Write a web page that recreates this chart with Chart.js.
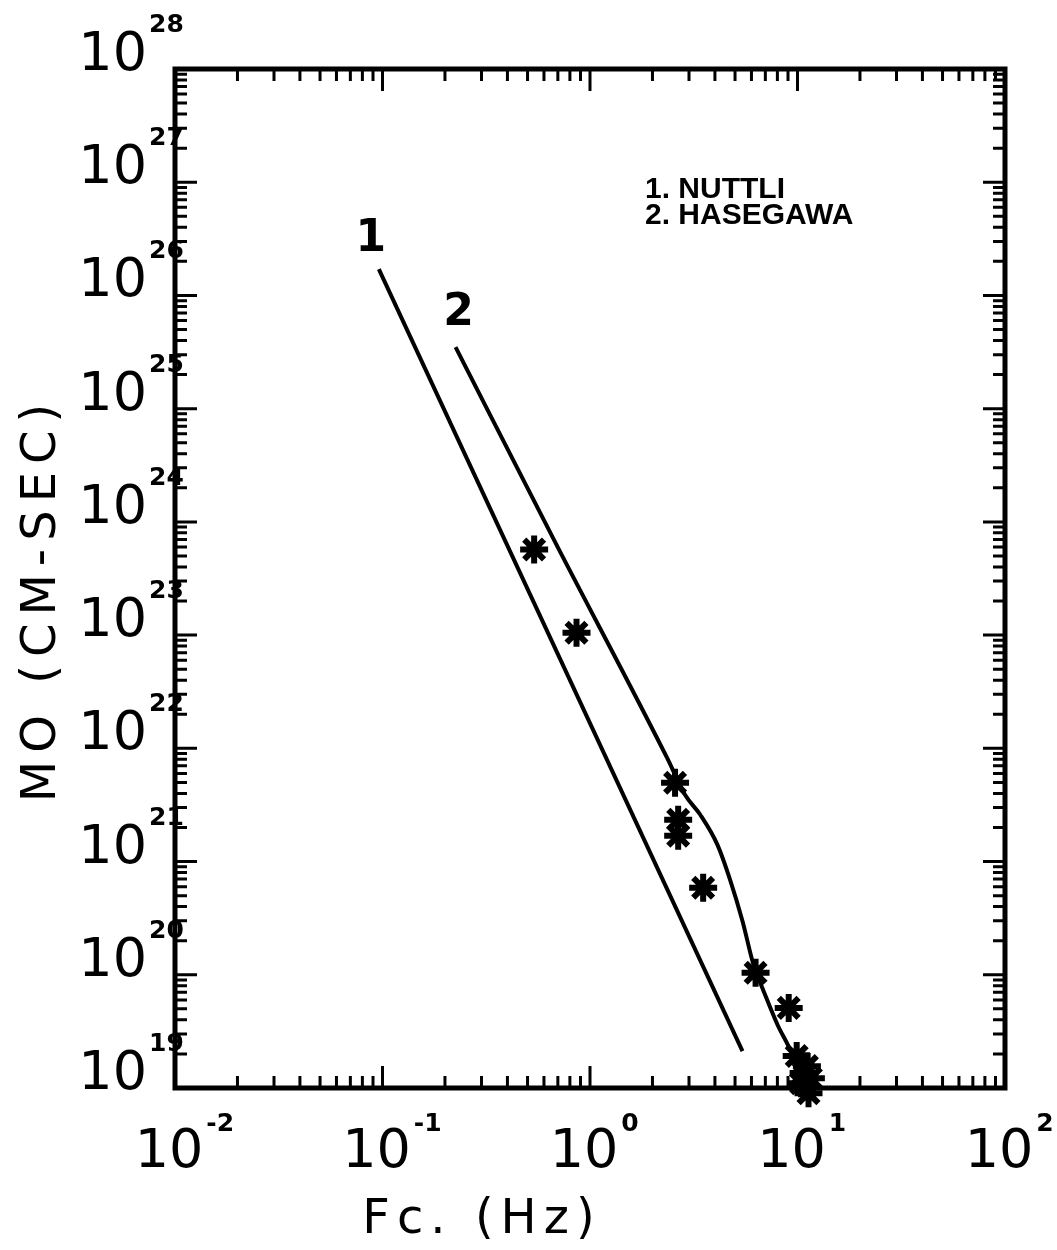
<!DOCTYPE html>
<html>
<head>
<meta charset="utf-8">
<script src="https://cdn.jsdelivr.net/npm/chart.js@4.4.1/dist/chart.umd.min.js"></script>
<style>
  body { margin: 0; background: #fff; }
  canvas { display: block; }
</style>
</head>
<body>
<canvas id="moment-chart" width="1057" height="1250"></canvas>
<script>
// decade exponents for the tick labels
const xExponents = [-2, -1, 0, 1, 2];
const yExponents = [19, 20, 21, 22, 23, 24, 25, 26, 27, 28];

// curve 1: Nuttli
const nuttliFc = [0.096, 5.43];
const nuttliMo = [1.71e26, 2.12e19];

// curve 2: Hasegawa
const hasegawaFc = [0.225, 0.689, 2.35, 2.87, 3.40, 4.11, 4.75, 5.43, 6.14, 6.86, 8.02, 9.27, 10.4];
const hasegawaMo = [3.49e25, 6.3e23, 8.27e21, 3.89e21, 2.59e21, 1.41e21, 6.76e20, 2.99e20, 1.22e20, 7.2e19, 3.6e19, 2.12e19, 1.18e19];

// observed events
const eventFc = [0.538, 0.861, 2.57, 2.66, 2.66, 3.51, 6.28, 9.07, 9.91, 11.1, 10.7, 11.6, 11.3, 10.4];
const eventMo = [5.7e23, 1.05e23, 4.97e21, 2.34e21, 1.69e21, 5.86e20, 1.04e20, 5.1e19, 1.92e19, 1.56e19, 1.36e19, 1.22e19, 9.0e18, 1.1e19];

const curveNumbers = ["1", "2"];
const legendLines = ["1. NUTTLI", "2. HASEGAWA"];
const xTitle = "Fc. (Hz)";
const yTitle = "MO (CM-SEC)";

function pairs(xs, ys) {
  return xs.map((x, i) => ({ x: x, y: ys[i] }));
}

const FONT = '"DejaVu Sans"';

// frame, inward ticks on all four sides, and all the text
const logFrame = {
  id: "logFrame",
  beforeDatasetsDraw(chart) {
    const ctx = chart.ctx;
    const xs = chart.scales.x;
    const ys = chart.scales.y;
    const { left, right, top, bottom } = chart.chartArea;
    ctx.save();
    ctx.strokeStyle = "#000";
    ctx.lineWidth = 3;
    ctx.beginPath();
    for (let e = xExponents[0]; e < xExponents[xExponents.length - 1]; e++) {
      for (let m = 1; m <= 9; m++) {
        const px = xs.getPixelForValue(m * Math.pow(10, e));
        const len = m === 1 ? 22 : 12;
        ctx.moveTo(px, bottom);
        ctx.lineTo(px, bottom - len);
        ctx.moveTo(px, top);
        ctx.lineTo(px, top + len);
      }
    }
    for (let e = yExponents[0]; e < yExponents[yExponents.length - 1]; e++) {
      for (let m = 1; m <= 9; m++) {
        const py = ys.getPixelForValue(m * Math.pow(10, e));
        const len = m === 1 ? 22 : 12;
        ctx.moveTo(left, py);
        ctx.lineTo(left + len, py);
        ctx.moveTo(right, py);
        ctx.lineTo(right - len, py);
      }
    }
    ctx.stroke();
    ctx.lineWidth = 5;
    ctx.strokeRect(left, top, right - left, bottom - top);
    ctx.restore();
  },
  afterDraw(chart) {
    const ctx = chart.ctx;
    const xs = chart.scales.x;
    const ys = chart.scales.y;
    const { left, top, bottom } = chart.chartArea;
    ctx.save();
    ctx.fillStyle = "#000";

    // x tick labels: 10 with exponent
    xExponents.forEach((e) => {
      const px = xs.getPixelForValue(Math.pow(10, e)) - 6;
      ctx.font = "54px " + FONT;
      ctx.textAlign = "center";
      ctx.textBaseline = "alphabetic";
      ctx.fillText("10", px, bottom + 79);
      const w = ctx.measureText("10").width;
      ctx.font = "bold 25px " + FONT;
      ctx.textAlign = "left";
      ctx.fillText(String(e), px + w / 2 + 3, bottom + 43);
    });

    // y tick labels
    yExponents.forEach((e) => {
      const py = ys.getPixelForValue(Math.pow(10, e));
      ctx.font = "54px " + FONT;
      ctx.textAlign = "right";
      ctx.textBaseline = "alphabetic";
      ctx.fillText("10", left - 28, py + 1);
      ctx.font = "bold 25px " + FONT;
      ctx.textAlign = "left";
      ctx.fillText(String(e), left - 26, py - 37);
    });

    // curve numbers next to the start of each line
    ctx.font = "bold 44px " + FONT;
    ctx.textAlign = "center";
    ctx.textBaseline = "middle";
    const p1 = chart.getDatasetMeta(1).data[0];
    const p2 = chart.getDatasetMeta(2).data[0];
    ctx.fillText(curveNumbers[0], p1.x - 8, p1.y - 30);
    ctx.fillText(curveNumbers[1], p2.x + 3, p2.y - 34);

    // key
    ctx.font = 'bold 30px "Liberation Sans"';
    ctx.textAlign = "left";
    ctx.textBaseline = "alphabetic";
    legendLines.forEach((t, i) => {
      ctx.fillText(t, left + 470, top + 129 + i * 26);
    });

    // axis titles
    ctx.font = "48px " + FONT;
    ctx.letterSpacing = "7px";
    ctx.textAlign = "center";
    ctx.fillText(xTitle, 482, 1233);

    ctx.font = "48px " + FONT;
    ctx.letterSpacing = "8px";
    ctx.translate(55, 599);
    ctx.rotate(-Math.PI / 2);
    ctx.fillText(yTitle, 0, 0);
    ctx.restore();
  },
};

const chart = new Chart(document.getElementById("moment-chart").getContext("2d"), {
  type: "scatter",
  data: {
    datasets: [
      {
        label: "events",
        data: pairs(eventFc, eventMo),
        pointStyle: "star",
        pointRadius: 14,
        pointBorderWidth: 6,
        borderColor: "#000",
        backgroundColor: "#000",
        showLine: false,
        clip: false,
      },
      {
        label: "NUTTLI",
        data: pairs(nuttliFc, nuttliMo),
        showLine: true,
        pointRadius: 0,
        borderWidth: 4,
        borderColor: "#000",
      },
      {
        label: "HASEGAWA",
        data: pairs(hasegawaFc, hasegawaMo),
        showLine: true,
        pointRadius: 0,
        borderWidth: 4,
        borderColor: "#000",
        cubicInterpolationMode: "monotone",
      },
    ],
  },
  options: {
    responsive: false,
    animation: false,
    devicePixelRatio: 1,
    layout: { padding: { left: 175, right: 52, top: 69, bottom: 162 } },
    scales: {
      x: { type: "logarithmic", min: 0.01, max: 100, display: false },
      y: { type: "logarithmic", min: 1e19, max: 1e28, display: false },
    },
    plugins: {
      legend: { display: false },
      tooltip: { enabled: false },
    },
  },
  plugins: [logFrame],
});
</script>
</body>
</html>
